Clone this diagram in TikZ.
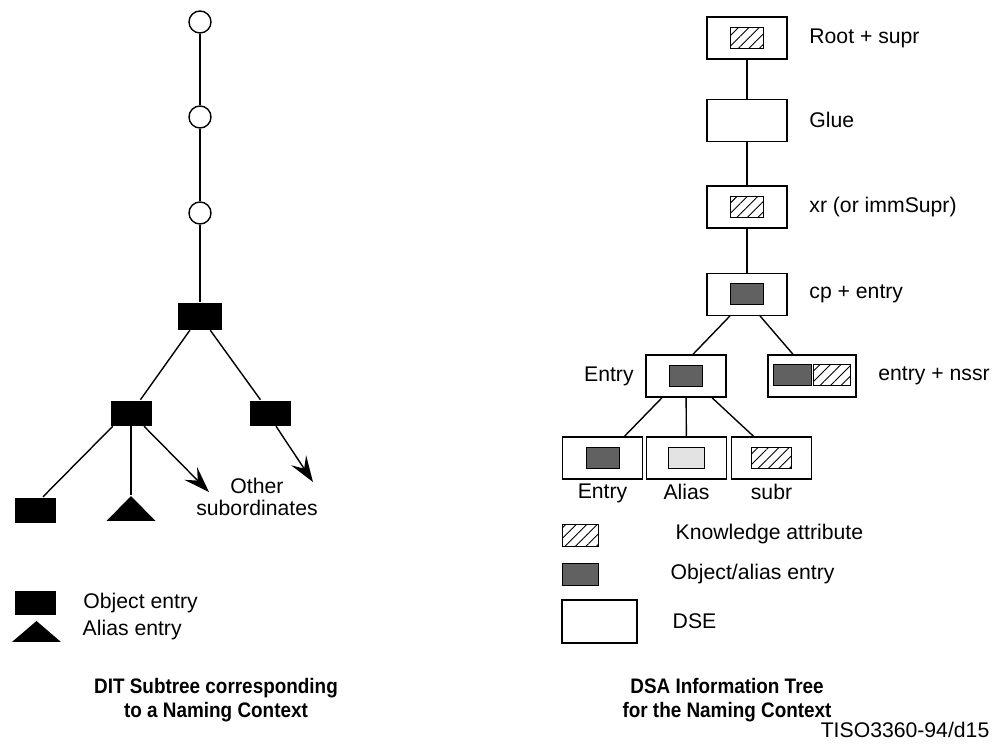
\documentclass[tikz,border=0pt]{standalone}
\usepackage{fontspec}
\setmainfont{Liberation Sans}
\newfontfamily\capfont[FakeStretch=0.9]{Liberation Sans}
\usepackage{tikz}
\usetikzlibrary{arrows.meta,patterns.meta,positioning,shapes.geometric}

\begin{document}
\begin{tikzpicture}[x=0.5pt,y=-0.5pt,line width=0.7pt,
    font=\fontsize{10.6}{10.8}\selectfont,
    dse/.style={draw,fill=white,minimum width=40pt,minimum height=21pt,inner sep=0pt},
    know/.style={draw,line width=0.5pt,minimum width=16.5pt,minimum height=10.5pt,inner sep=0pt,
      pattern={Lines[angle=45,distance=3.7pt,line width=0.45pt]}},
    obj/.style={draw,line width=0.5pt,fill=black!62,minimum width=16.5pt,minimum height=10.5pt,inner sep=0pt},
    alias/.style={draw,line width=0.5pt,fill=black!11,minimum width=18pt,minimum height=10.5pt,inner sep=0pt},
    entry/.style={fill=black,minimum width=20.5pt,minimum height=12.5pt,inner sep=0pt},
    aliasent/.style={fill=black,isosceles triangle,isosceles triangle apex angle=90,
      isosceles triangle stretches,shape border rotate=90,inner sep=0pt,
      minimum width=24.5pt,minimum height=12.5pt},
    ctx/.style={draw,circle,minimum size=11pt,inner sep=0pt},
    lbl/.style={inner sep=0pt},
    captext/.style={font=\capfont\bfseries\fontsize{10.5}{12}\selectfont,align=center},
    sub/.style={-{Stealth[length=13pt,width=9pt,inset=5pt]}}]
  \useasboundingbox (0,0) rectangle (992,745);

  % DIT subtree
  \node[ctx] (c1) at (200,22) {};
  \node[ctx] (c2) at (200,117) {};
  \node[ctx] (c3) at (200,213) {};
  \node[entry,minimum width=22pt,minimum height=13.5pt] (nc) at (200,316) {};
  \node[entry] (e1) at (131,413) {};
  \node[entry] (e2) at (270,413) {};
  \node[entry] (e3) at (35,510) {};
  \node[aliasent,anchor=apex] (a1) at (131,495) {};
  \coordinate (o1) at (209,492);
  \coordinate (o2) at (313,482);
  \node[lbl,align=center] (oth) at (257,497) {Other\\subordinates};

  \draw (c1) -- (c2) -- (c3) -- (nc);
  \draw (nc) -- (e1);
  \draw (nc) -- (e2);
  \draw ([xshift=1.5pt]e1.south west) -- ([xshift=4pt]e3.north);
  \draw (e1) -- (a1.apex);
  \draw[sub] ([xshift=6.5pt]e1.south) -- (o1);
  \draw[sub] ([xshift=3pt]e2.south) -- (o2);

  \node[entry,minimum height=12pt] (le) at (35.5,603) {};
  \node[lbl] (lel) [right=13pt of le] {Object entry};
  \node[aliasent,anchor=apex,minimum height=10.5pt] (la) at (36.5,620) {};
  \node[lbl,anchor=west] (lal) at (82,630) {Alias entry};

  % DSA information tree
  \node[dse] (root) at (747,38) {};
  \node[know] (root-k) at (root) {};
  \node[dse] (glue) [below=19.5pt of root] {};
  \node[dse] (xr) [below=21.5pt of glue] {};
  \node[know] (xr-k) at (xr) {};
  \node[dse] (cp) [below=22pt of xr] {};
  \node[obj] (cp-o) at (cp) {};
  \node[dse] (ent) at (686,376) {};
  \node[obj] (ent-o) at (ent) {};
  \node[dse,minimum width=44pt] (nssr) at (812,376) {};
  \node[obj,minimum width=19pt] (nssr-o) at (792,375) {};
  \node[know,minimum width=18.5pt] (nssr-k) at (831.5,375) {};
  \node[dse] (be) at (602.5,458) {};
  \node[obj] (be-o) at (be) {};
  \node[dse] (ba) at (686.5,458) {};
  \node[alias] (ba-a) at (ba) {};
  \node[dse] (bs) at (771.5,458) {};
  \node[know,minimum width=20pt] (bs-k) at (bs) {};

  \draw (root) -- (glue) -- (xr) -- (cp);
  \draw ([xshift=-8.5pt]cp.south) -- ([xshift=3.5pt]ent.north);
  \draw ([xshift=6.5pt]cp.south) -- ([xshift=-9.5pt]nssr.north);
  \draw ([xshift=-12pt]ent.south) -- ([xshift=11pt]be.north);
  \draw (ent) -- (ba);
  \draw ([xshift=13pt]ent.south) -- ([xshift=-9pt]bs.north);

  \node[lbl] (root-l) [right=10.5pt of root] {Root + supr};
  \node[lbl] (glue-l) [right=10.5pt of glue] {Glue};
  \node[lbl] (xr-l) [right=10.5pt of xr] {xr (or immSupr)};
  \node[lbl] (cp-l) [right=10.5pt of cp] {cp + entry};
  \node[lbl] (ent-l) [left=5.5pt of ent] {Entry};
  \node[lbl] (nssr-l) [right=10.5pt of nssr] {entry + nssr};
  \node[lbl] (be-l) [below=2pt of be] {Entry};
  \node[lbl] (ba-l) [below=2pt of ba] {Alias};
  \node[lbl] (bs-l) [below=2pt of bs] {subr};

  % legend
  \node[know,minimum width=18pt,minimum height=11pt] (lk) at (580,535) {};
  \node[lbl,anchor=west] (lk-l) at (675,534) {Knowledge attribute};
  \node[obj,minimum width=18pt,minimum height=11pt] (lo) at (580,574) {};
  \node[lbl,anchor=west] (lo-l) at (670,574) {Object/alias entry};
  \node[dse,minimum width=37.5pt,minimum height=21.5pt] (ld) at (599.5,621.5) {};
  \node[lbl,anchor=west] (ld-l) at (672,621) {DSE};

  % captions
  \node[captext] (capl) at (216,700) {DIT Subtree corresponding\\to a Naming Context};
  \node[captext] (capr) at (727,700) {DSA Information Tree\\for the Naming Context};
  \node[lbl,anchor=east] (tag) at (990,730) {TISO3360-94/d15};
\end{tikzpicture}
\end{document}
